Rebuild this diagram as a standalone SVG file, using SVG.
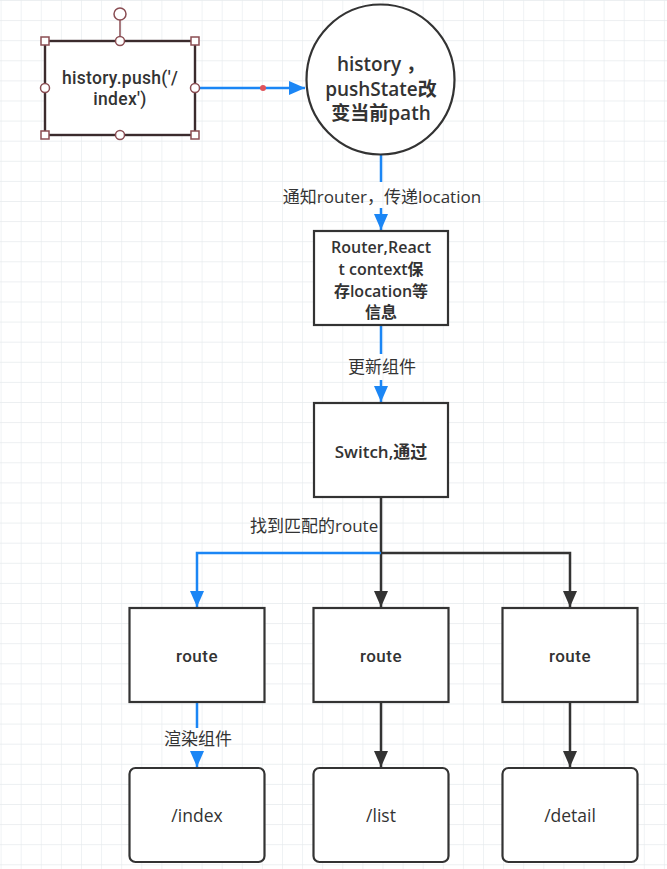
<svg xmlns="http://www.w3.org/2000/svg" width="667" height="869" viewBox="0 0 667 869">
<style>
text{font-family:"Open Sans","Noto Sans CJK SC",sans-serif;fill:#333;text-anchor:middle}
.rb{font-family:Roboto,"Noto Sans CJK SC",sans-serif;font-weight:500}
.box{fill:#fff;stroke:#333;stroke-width:2.2}
.sel{fill:#fff;stroke:#3b2b2d;stroke-width:2.4}
.h{fill:#fff;stroke:#8a4d53;stroke-width:1.5}
.lbl{font-size:17px;font-weight:400}
.blue{fill:none;stroke:#1b86f5;stroke-width:2.5}
.dark{fill:none;stroke:#333;stroke-width:2.5}
</style>
<defs>
<pattern id="grid" width="20.1" height="20.1" patternUnits="userSpaceOnUse" x="0.6" y="0">
<path d="M0,0 H20.1 M0,0 V20.1" fill="none" stroke="#e6eaed" stroke-width="1.2"/>
</pattern>
<marker id="ab" markerUnits="userSpaceOnUse" markerWidth="18" markerHeight="16" refX="16" refY="7" orient="auto">
<path d="M0,0 L16,7 L0,14 z" fill="#1b86f5"/>
</marker>
<marker id="ad" markerUnits="userSpaceOnUse" markerWidth="18" markerHeight="16" refX="16" refY="7" orient="auto">
<path d="M0,0 L16,7 L0,14 z" fill="#333"/>
</marker>
</defs>
<rect width="667" height="869" fill="#fff"/>
<rect width="667" height="869" fill="url(#grid)"/>

<g id="connectors">
<path class="blue" d="M195,88 H305" marker-end="url(#ab)"/>
<circle cx="263" cy="88" r="3" fill="#e0525a"/>
<path class="blue" d="M381,155 V182 M381,208 V230" marker-end="url(#ab)"/>
<path class="blue" d="M381,325 V354 M381,380 V402" marker-end="url(#ab)"/>
<path class="dark" d="M381,497 V607" marker-end="url(#ad)"/>
<path class="dark" d="M381,553 H570 V607" marker-end="url(#ad)"/>
<path class="blue" d="M381,553 H197 V607" marker-end="url(#ab)"/>
<path class="blue" d="M197,702 V728 M197,751 V767" marker-end="url(#ab)"/>
<path class="dark" d="M381,702 V767" marker-end="url(#ad)"/>
<path class="dark" d="M570,702 V767" marker-end="url(#ad)"/>
<text class="lbl" x="382" y="202.5">通知router，传递location</text>
<text class="lbl" x="382" y="372.5">更新组件</text>
<text class="lbl" x="250" y="531.5" style="text-anchor:start">找到匹配的route</text>
<text class="lbl" x="198" y="745">渲染组件</text>
</g>

<g id="node-push">
<line x1="120" y1="20" x2="120" y2="41" stroke="#8a4d53" stroke-width="1.5"/>
<rect class="sel" x="45" y="41" width="150" height="94"/>
<circle class="h" cx="120" cy="14" r="6"/>
<rect class="h" x="41" y="37" width="8" height="8"/>
<rect class="h" x="191" y="37" width="8" height="8"/>
<rect class="h" x="41" y="131" width="8" height="8"/>
<rect class="h" x="191" y="131" width="8" height="8"/>
<circle class="h" cx="120" cy="41" r="4.5"/>
<circle class="h" cx="120" cy="135" r="4.5"/>
<circle class="h" cx="45" cy="88" r="4.5"/>
<circle class="h" cx="195" cy="88" r="4.5"/>
<text class="rb" x="120" y="83.5" style="font-size:17.5px;letter-spacing:0.3px">history.push('/</text>
<text class="rb" x="120" y="104.5" style="font-size:17.5px;letter-spacing:0.3px">index')</text>
</g>

<g id="node-history">
<ellipse class="box" cx="380.5" cy="79.5" rx="74" ry="75"/>
<text x="381" y="71" style="font-size:19px;font-weight:600">history ，</text>
<text x="381" y="95.5" style="font-size:19px;font-weight:600">pushState改</text>
<text x="381" y="120" style="font-size:19px;font-weight:600">变当前path</text>
</g>

<g id="node-router">
<rect class="box" x="314" y="231" width="134" height="94"/>
<text x="381" y="252.5" style="font-size:16px;font-weight:600">Router,React</text>
<text x="381" y="274.5" style="font-size:16px;font-weight:600">t context保</text>
<text x="381" y="296.5" style="font-size:16px;font-weight:600">存location等</text>
<text x="381" y="318" style="font-size:16px;font-weight:600">信息</text>
</g>

<g id="node-switch">
<rect class="box" x="314" y="403" width="134" height="94"/>
<text x="381" y="458" style="font-size:17px;font-weight:600">Switch,通过</text>
</g>

<g id="node-route1">
<rect class="box" x="129.5" y="608" width="135" height="94"/>
<text class="rb" x="197" y="662" style="font-size:17px;letter-spacing:0.5px">route</text>
</g>
<g id="node-route2">
<rect class="box" x="313.5" y="608" width="135" height="94"/>
<text class="rb" x="381" y="662" style="font-size:17px;letter-spacing:0.5px">route</text>
</g>
<g id="node-route3">
<rect class="box" x="502.5" y="608" width="135" height="94"/>
<text class="rb" x="570" y="662" style="font-size:17px;letter-spacing:0.5px">route</text>
</g>

<g id="node-index">
<rect class="box" x="129.5" y="768" width="135" height="94" rx="6"/>
<text x="197" y="822" style="font-size:17.5px">/index</text>
</g>
<g id="node-list">
<rect class="box" x="313.5" y="768" width="135" height="94" rx="6"/>
<text x="381" y="822" style="font-size:17.5px">/list</text>
</g>
<g id="node-detail">
<rect class="box" x="502.5" y="768" width="135" height="94" rx="6"/>
<text x="570" y="822" style="font-size:17.5px">/detail</text>
</g>
</svg>
